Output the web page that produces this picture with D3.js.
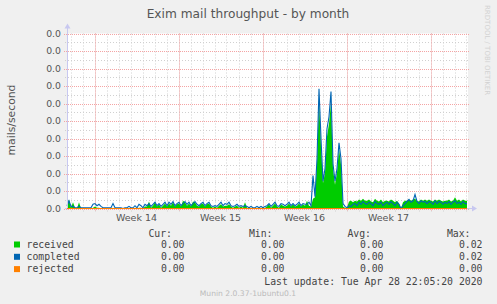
<!DOCTYPE html>
<html><head><meta charset="utf-8">
<script src="https://cdn.jsdelivr.net/npm/d3@7"></script>
<style>body{margin:0;background:#f0f0f0}svg{display:block}</style>
</head><body>
<script>
// ---- data ----
const startTime = Date.UTC(2020, 2, 27, 17); // first sample
const stepHours = 4;
const received = [
0.0003,0.0013,0.0001,0.0009,0.0001,0,0.0009,0,0,0,
0,0,0,0.0001,0.0003,0.0001,0.0001,0,0,0,
0,0,0,0.0001,0,0,0,0,0,0,
0,0,0,0,0.0001,0,0.0001,0.0001,0,0.0003,
0.0003,0.001,0.0001,0.0004,0.0009,0.0003,0.0006,0.0001,0.0004,0.0007,
0.0003,0.0007,0.0004,0.0009,0.0003,0.0006,0.0007,0.0003,0.0011,0.0009,
0.0004,0.0007,0.0003,0.001,0.0009,0.0004,0.0003,0.0006,0.0007,0.0003,
0.0006,0.0007,0.0003,0.0001,0.0003,0.0001,0.0004,0.0006,0.0003,0.0004,
0.0004,0.0006,0.0003,0.0001,0.0003,0.0004,0.0001,0.0003,0.0001,0.0009,
0.0001,0,0.0001,0,0,0.0001,0,0.0001,0,0.0001,
0.0003,0.0006,0.0001,0.0004,0.0007,0.0003,0.0001,0.0006,0.0004,0.0003,
0.0004,0.0007,0.0003,0.0006,0.0003,0.0004,0.0007,0.0003,0.0006,0.0004,
0.0011,0.0004,0.0003,0.0014,0.0016,0.0064,0.0157,0.0089,0.0036,0.0051,
0.0103,0.0121,0.0151,0.0057,0.0034,0.0051,0.0086,0.0063,0.0003,0.0001,
0.0001,0.001,0.0011,0.0009,0.0011,0.001,0.0013,0.0011,0.0014,0.0011,
0.0011,0.0013,0.001,0.0009,0.0014,0.0011,0.001,0.0013,0.0009,0.0011,
0.0011,0.001,0.0013,0.0011,0.0009,0.0011,0.0007,0,0.0009,0.0011,
0.0011,0.0013,0.0011,0.0013,0.0014,0.0011,0.001,0.0013,0.0011,0.0013,
0.0011,0.0013,0.0011,0.001,0.0013,0.0011,0.0013,0.0011,0.001,0.0011,
0.0011,0.0013,0.001,0.0011,0.0016,0.0011,0.0013,0.001,0.0013,0.0011,
0.0011];
const completed = [
0.0004,0.0011,0.0003,0.0003,0.0001,0.0001,0.0003,0.0001,0.0001,0.0001,
0.0001,0.0001,0.0001,0.0006,0.0007,0.0004,0.0006,0.0003,0.0001,0.0001,
0.0001,0.0001,0.0001,0.0007,0.0001,0.0001,0.0001,0.0001,0,0.0001,
0.0001,0.0003,0.0001,0.0001,0.0004,0.0001,0.0006,0.0004,0.0001,0.0006,
0.0004,0.0007,0.0003,0.0006,0.0009,0.0004,0.0007,0.0003,0.0006,0.0009,
0.0004,0.0009,0.0006,0.001,0.0004,0.0007,0.0009,0.0004,0.0007,0.001,
0.0006,0.0009,0.0004,0.0007,0.001,0.0006,0.0004,0.0007,0.0009,0.0004,
0.0007,0.0009,0.0004,0.0003,0.0004,0.0003,0.0006,0.0009,0.0004,0.0007,
0.0006,0.0009,0.0004,0.0003,0.0004,0.0006,0.0003,0.0004,0.0003,0.0004,
0.0003,0.0001,0.0003,0.0001,0.0001,0.0003,0.0001,0.0003,0.0001,0.0003,
0.0004,0.0007,0.0003,0.0006,0.0009,0.0004,0.0003,0.0007,0.0006,0.0004,
0.0006,0.0009,0.0004,0.0007,0.0004,0.0006,0.0009,0.0004,0.0007,0.0006,
0.0006,0.0009,0.0004,0.0047,0.0017,0.0071,0.0171,0.01,0.0039,0.0057,
0.0114,0.0131,0.0167,0.0064,0.0039,0.0057,0.0094,0.0071,0.0007,0.0003,
0.0001,0.0004,0.0003,0.0006,0.0007,0.0004,0.0009,0.0006,0.001,0.0007,
0.0006,0.0009,0.0007,0.0004,0.001,0.0007,0.0006,0.0009,0.0004,0.0007,
0.0009,0.0006,0.001,0.0007,0.0004,0.0009,0.0006,0,0.0004,0.0007,
0.001,0.0013,0.0009,0.0011,0.002,0.001,0.0007,0.0011,0.0009,0.001,
0.0007,0.001,0.0009,0.0006,0.0011,0.0007,0.001,0.0009,0.0006,0.0009,
0.0007,0.001,0.0006,0.0009,0.0011,0.0007,0.0009,0.0006,0.001,0.0007,
0.0007];
const rejected = [
0,0,0,0,0,0,0,0,0,0, 0,0,0,0,0,0,0,0,0,0, 0,0,0,0,0,0,0,0,0,0, 0,0,0,0,0,0,0,0,0,0,
0,0,0,0,0,0,0,0,0,0, 0,0,0,0,0,0,0,0,0,0, 0,0,0,0,0,0,0,0,0,0, 0,0,0,0,0,0,0,0,0,0,
0,0,0,0,0,0,0,0,0,0, 0,0,0,0,0,0,0,0,0,0, 0,0,0,0,0,0,0,0,0,0, 0,0,0,0,0,0,0,0,0,0,
0,0,0,0,0,0,0,0,0,0, 0,0,0,0,0,0,0,0,0,0, 0,0,0,0,0,0,0,0,0,0, 0,0,0,0,0,0,0,0,0,0,
0,0,0,0,0,0,0,0,0,0, 0,0,0,0,0,0,0,0,0,0, 0,0,0,0,0,0,0,0,0,0, 0,0,0,0,0,0,0,0,0,0,
0];
const yTicks = [0,0.0025,0.005,0.0075,0.01,0.0125,0.015,0.0175,0.02,0.0225,0.025];
const yMax = 0.025;
const weekLabels = ["Week 14","Week 15","Week 16","Week 17"];
const weekStarts = [Date.UTC(2020,2,30),Date.UTC(2020,3,6),Date.UTC(2020,3,13),Date.UTC(2020,3,20)];
const seriesNames = ["received","completed","rejected"];
const seriesColors = ["#00cc00","#0066b3","#ff8000"];
const statHeaders = ["Cur:","Min:","Avg:","Max:"];
const statCur = ["0.00","0.00","0.00"];
const statMin = ["0.00","0.00","0.00"];
const statAvg = ["0.00","0.00","0.00"];
const statMax = ["0.02","0.02","0.00"];
const lastUpdate = "Last update: Tue Apr 28 22:05:20 2020";
const footer = "Munin 2.0.37-1ubuntu0.1";

// ---- layout ----
const W = 497, H = 304;
const L = 67, R = 468, T = 33.5, B = 208.5;
const HOUR = 3600000;
const endTime = startTime + 802 * HOUR;

const svg = d3.select("body").append("svg").attr("width", W).attr("height", H)
  .style("font-family", "'DejaVu Sans', sans-serif");
svg.append("rect").attr("width", W).attr("height", H).attr("fill", "#f0f0f0");

const x = d3.scaleUtc().domain([startTime, endTime]).range([L, R]);
const y = d3.scaleLinear().domain([0, yMax]).range([B, T]);

svg.append("rect").attr("x", L).attr("y", T).attr("width", R - L).attr("height", B - T).attr("fill", "#ffffff");

const grid = svg.append("g");
const minorY = yTicks.slice(0, -1).map(v => v + yTicks[1] / 2);
grid.selectAll(".mh").data(minorY).join("line")
  .attr("x1", L - 2).attr("x2", R + 1).attr("y1", d => Math.round(y(d)) + 0.5).attr("y2", d => Math.round(y(d)) + 0.5)
  .attr("stroke", "#d0d0d0").attr("stroke-dasharray", "1,2");
const days = d3.utcDay.range(new Date(startTime), new Date(endTime));
grid.selectAll(".dv").data(days).join("line")
  .attr("x1", d => Math.round(x(d)) + 0.5).attr("x2", d => Math.round(x(d)) + 0.5)
  .attr("y1", T).attr("y2", B + 3)
  .attr("stroke", "#d0d0d0").attr("stroke-dasharray", "1,2");
grid.selectAll(".Mh").data(yTicks).join("line")
  .attr("x1", L - 3).attr("x2", R + 2).attr("y1", d => Math.round(y(d)) + 0.5).attr("y2", d => Math.round(y(d)) + 0.5)
  .attr("stroke", "#f4a4a4").attr("stroke-dasharray", "1,1");
const mondays = d3.utcMonday.range(new Date(startTime), new Date(endTime));
grid.selectAll(".wv").data(mondays).join("line")
  .attr("x1", d => Math.round(x(d)) + 0.5).attr("x2", d => Math.round(x(d)) + 0.5)
  .attr("y1", T).attr("y2", B + 3)
  .attr("stroke", "#f4a4a4").attr("stroke-dasharray", "1,1");

// data
const times = received.map((_, i) => startTime + i * stepHours * HOUR);
const area = d3.area().x((d, i) => x(times[i])).y0(y(0)).y1(d => y(d));
const line = d3.line().x((d, i) => x(times[i])).y(d => y(d));
svg.append("path").datum(received).attr("d", area).attr("fill", seriesColors[0]);
svg.append("path").datum(completed).attr("d", line).attr("fill", "none").attr("stroke", seriesColors[1]).attr("stroke-width", 1.1);

// axes
const axisCol = "#c8c8f0";
svg.append("line").attr("x1", L + 0.5).attr("x2", L + 0.5).attr("y1", B + 1).attr("y2", T - 6).attr("stroke", axisCol);
svg.append("path").attr("d", `M${L-2.5},${T-5} L${L+3.5},${T-5} L${L+0.5},${T-10} Z`).attr("fill", axisCol);
svg.append("line").attr("x1", L - 2).attr("x2", R + 5).attr("y1", B).attr("y2", B).attr("stroke", axisCol);
svg.append("path").attr("d", `M${R+4},${B-3} L${R+4},${B+3} L${R+9},${B} Z`).attr("fill", axisCol);
svg.append("path").datum(rejected).attr("d", line).attr("fill", "none").attr("stroke", seriesColors[2]).attr("stroke-width", 1);

// y labels
const yAxis = d3.axisLeft(y).tickValues(yTicks).tickFormat(d3.format(".1f")).tickSize(0).tickPadding(0);
const ya = svg.append("g").attr("transform", `translate(${L - 6},0)`).call(yAxis);
ya.select(".domain").remove();
ya.selectAll("text").attr("font-size", 9.3).attr("fill", "#555").attr("font-family", "'DejaVu Sans', sans-serif");

// week labels
svg.selectAll(".wl").data(weekLabels).join("text")
  .attr("x", (d, i) => x(weekStarts[i] + 84 * HOUR))
  .attr("y", 221).attr("text-anchor", "middle").attr("font-size", 9.5).attr("fill", "#555").text(d => d);

svg.append("text").attr("x", 248).attr("y", 18).attr("text-anchor", "middle")
  .attr("font-size", 12.2).attr("fill", "#555").text("Exim mail throughput - by month");
svg.append("text").attr("transform", "translate(15,120) rotate(-90)").attr("text-anchor", "middle")
  .attr("font-size", 10.8).attr("fill", "#555").text("mails/second");
svg.append("text").attr("transform", "translate(485,5) rotate(90)").attr("text-anchor", "start")
  .attr("font-size", 7).attr("fill", "#d2d2d2").text("RRDTOOL / TOBI OETIKER");

// legend
const mono = "'DejaVu Sans Mono', monospace";
const lg = svg.append("g").attr("font-family", mono).attr("font-size", 9.8).attr("fill", "#444");
const headerEnds = [172, 272.5, 371, 470.5];
const valueEnds = [184.5, 284.5, 383.5, 482.5];
lg.selectAll(".hd").data(statHeaders).join("text").attr("x", (d, i) => headerEnds[i]).attr("y", 236.5)
  .attr("text-anchor", "end").text(d => d);
const rowY = [247.8, 260.1, 272.4];
seriesNames.forEach((name, k) => {
  lg.append("rect").attr("x", 14).attr("y", rowY[k] - 6.3).attr("width", 6).attr("height", 6).attr("fill", seriesColors[k]);
  lg.append("text").attr("x", 26.5).attr("y", rowY[k]).text(name);
  [statCur, statMin, statAvg, statMax].forEach((arr, j) => {
    lg.append("text").attr("x", valueEnds[j]).attr("y", rowY[k]).attr("text-anchor", "end").text(arr[k]);
  });
});
lg.append("text").attr("x", 482.5).attr("y", 284.5).attr("text-anchor", "end").text(lastUpdate);
svg.append("text").attr("x", 248).attr("y", 296).attr("text-anchor", "middle")
  .attr("font-size", 7.6).attr("fill", "#bbbbbb").text(footer);
</script>
</body></html>
